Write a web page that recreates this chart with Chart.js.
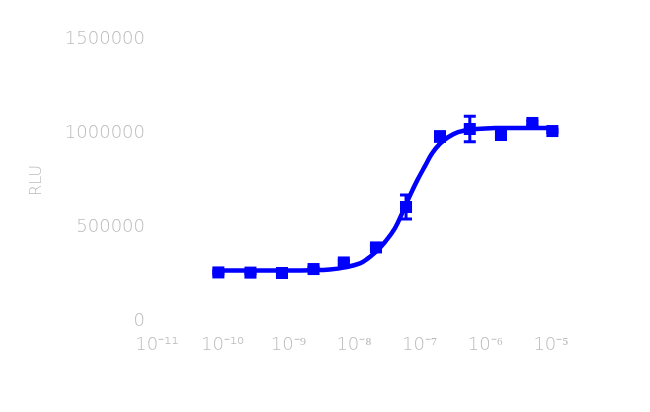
<!DOCTYPE html>
<html>
<head>
<meta charset="utf-8">
<title>Curva dose-resposta</title>
<script src="https://cdn.jsdelivr.net/npm/chart.js@4.4.1/dist/chart.umd.min.js"></script>
<style>
    html, body { margin:0; padding:0; background:#ffffff; }
    #grafico { display:block; }
</style>
</head>
<body>
<canvas id="grafico" width="650" height="412"></canvas>
<script>
// ==========================================================
// Dados
// ==========================================================

// concentração (M) de cada ponto medido
const concentracoes = [8.6e-11, 2.65e-10, 8.0e-10, 2.42e-9, 7.0e-9, 2.16e-8,
                       6.2e-8, 2.04e-7, 5.8e-7, 1.73e-6, 5.2e-6, 1.05e-5];

// sinal médio e erro de cada ponto
const medias = [261000, 260000, 258000, 279000, 314000, 394000,
                609000, 984000, 1024000, 992000, 1056000, 1013000];

const erros = [8000, 6000, 6000, 8000, 10000, 12000,
               64000, 25000, 68000, 12000, 10000, 8000];

// curva ajustada (lida ao longo da linha)
const curvaX = [7.1e-11, 2.6e-10, 8.0e-10, 2.37e-9, 4.3e-9, 7.3e-9, 1.23e-8,
                1.63e-8, 2.16e-8, 2.96e-8, 4.21e-8, 5.57e-8, 7.13e-8, 9.1e-8,
                1.21e-7, 1.54e-7, 2.04e-7, 2.7e-7, 3.83e-7, 6.27e-7, 1.4e-6,
                4.0e-6, 1.07e-5];

const curvaY = [271000, 271000, 271000, 273000, 277000, 288000, 309000,
                336000, 371000, 423000, 497000, 586000, 671000, 748000,
                828000, 893000, 946000, 980000, 1007000, 1023000, 1029000,
                1029000, 1029000];

// eixos
const ticksX = [1e-11, 1e-10, 1e-9, 1e-8, 1e-7, 1e-6, 1e-5];
const rotulosX = ["10⁻¹¹", "10⁻¹⁰", "10⁻⁹", "10⁻⁸", "10⁻⁷", "10⁻⁶", "10⁻⁵"];
const ticksY = [0, 500000, 1000000, 1500000];

const tituloY = "RLU";

// ==========================================================
// Cores
// ==========================================================

const CORES = {
    azul: "#0000FF",
    texto: "#bcbcbc"
};

// ==========================================================
// PLUGIN: barras de erro
// ==========================================================

const barrasErroPlugin = {

    id: "barrasErro",

    afterDatasetsDraw(chart){

        const {ctx, scales} = chart;

        ctx.save();
        ctx.strokeStyle = CORES.azul;
        ctx.lineWidth = 3;

        concentracoes.forEach((c, i)=>{

            const x = scales.x.getPixelForValue(c);
            const y1 = scales.y.getPixelForValue(medias[i] - erros[i]);
            const y2 = scales.y.getPixelForValue(medias[i] + erros[i]);

            ctx.beginPath();
            ctx.moveTo(x, y1);
            ctx.lineTo(x, y2);
            ctx.moveTo(x - 6, y1);
            ctx.lineTo(x + 6, y1);
            ctx.moveTo(x - 6, y2);
            ctx.lineTo(x + 6, y2);
            ctx.stroke();

        });

        ctx.restore();

    }

};

// ==========================================================
// GRÁFICO
// ==========================================================

const fonteTicks = { family:"DejaVu Sans", size:18, weight:200 };

new Chart(document.getElementById("grafico"), {

    type:"scatter",

    data:{
        datasets:[
            {
                data:curvaX.map((x, i)=>({x:x, y:curvaY[i]})),
                showLine:true,
                borderColor:CORES.azul,
                borderWidth:4.5,
                pointRadius:0,
                tension:0.4,
                clip:false,
                order:2
            },
            {
                data:concentracoes.map((x, i)=>({x:x, y:medias[i]})),
                showLine:false,
                pointStyle:"rect",
                pointRadius:8.5,
                pointBorderWidth:0,
                backgroundColor:CORES.azul,
                borderColor:CORES.azul,
                clip:false,
                order:1
            }
        ]
    },

    options:{

        responsive:false,
        animation:false,

        layout:{
            padding:{ left:0, right:99, top:39.5, bottom:50.5 }
        },

        plugins:{
            legend:{ display:false },
            tooltip:{ enabled:false }
        },

        scales:{

            x:{
                type:"logarithmic",
                min:1e-11,
                max:1e-5,
                border:{ display:false },
                grid:{ display:false, drawTicks:false },
                afterBuildTicks(scale){
                    scale.ticks = ticksX.map(v=>({value:v}));
                },
                afterFit(scale){
                    scale.height = 40;
                },
                ticks:{
                    autoSkip:false,
                    maxRotation:0,
                    padding:13,
                    color:CORES.texto,
                    font:fonteTicks,
                    callback:(v)=>{
                        const i = ticksX.findIndex(t=>Math.abs(Math.log10(t) - Math.log10(v)) < 1e-6);
                        return i >= 0 ? rotulosX[i] : "";
                    }
                }
            },

            y:{
                min:0,
                max:1500000,
                border:{ display:false },
                grid:{ display:false, drawTicks:false },
                afterBuildTicks(scale){
                    scale.ticks = ticksY.map(v=>({value:v}));
                },
                afterFit(scale){
                    scale.width = 157;
                },
                title:{
                    display:true,
                    text:tituloY,
                    color:CORES.texto,
                    font:{ family:"DejaVu Sans", size:16, weight:200 },
                    padding:{ top:27, bottom:0 }
                },
                ticks:{
                    padding:12,
                    color:CORES.texto,
                    font:fonteTicks,
                    callback:(v)=>String(v)
                }
            }

        }

    },

    plugins:[barrasErroPlugin]

});
</script>
</body>
</html>
